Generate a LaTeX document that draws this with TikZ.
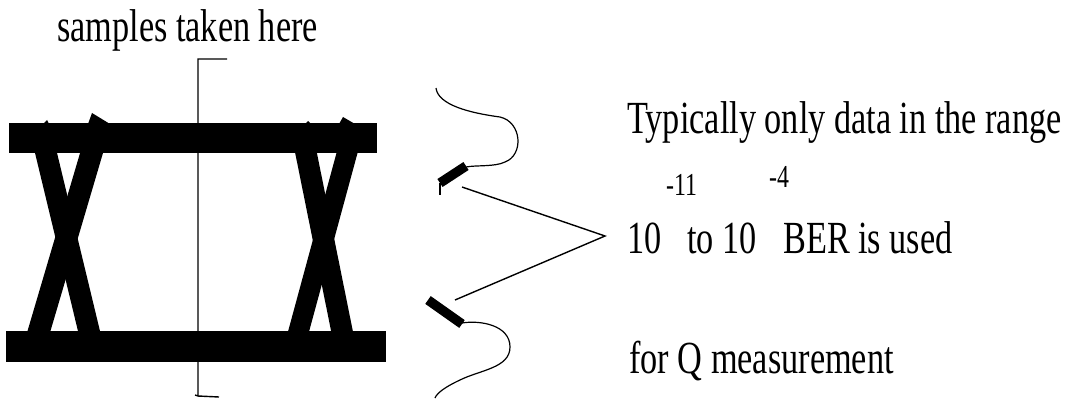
\documentclass[tikz,border=0pt]{standalone}
\usepackage{fontspec}
\setmainfont{Liberation Serif}
\usepackage{graphicx}
\usepackage{tikz}
\newcommand{\narrowtext}[1]{\scalebox{0.745}[1]{#1}}
\tikzset{
eyebar/.style={fill=black},
eyeleg/.style={draw=black, line cap=butt},
tailcurve/.style={draw=black, line width=1.2pt},
tailmark/.style={draw=black, line width=9.5pt},
pointer/.style={draw=black, line width=1.4pt},
lbl/.style={anchor=base west, inner sep=0pt, font=\fontsize{46}{52}\selectfont},
explbl/.style={anchor=base west, inner sep=0pt, font=\fontsize{32}{36}\selectfont}}

\begin{document}
\begin{tikzpicture}[x=1pt, y=-1pt]
                \useasboundingbox (0,0) rectangle (1081,401);

                \draw[eyeleg, line width=21.4pt] (40.0,128) -- (95.0,356);
                \draw[eyeleg, line width=22pt] (98.9,128) -- (31.6,356);
                \draw[eyeleg, line width=21.3pt] (301.0,128) -- (347.0,356);
                \draw[eyeleg, line width=20.3pt] (353.8,128) -- (291.9,356);

                \fill (88,124) -- (92,113) -- (110,124) -- cycle;
                \fill (43,124) -- (47,120) -- (49,124) -- cycle;
                \fill (339,124) -- (343,117) -- (355,124) -- cycle;
                \fill (305,124) -- (308,121) -- (311,124) -- cycle;

                \node[eyebar, inner sep=0pt, minimum width=368pt, minimum height=30pt] (topbar) at (193,138) {};
                \node[eyebar, inner sep=0pt, minimum width=380pt, minimum height=31pt] (botbar) at (196,346.5) {};

                \draw[line width=1.4pt] (227,59) -- (198,59) -- (198,396) -- (195,395);
                \draw[line width=1.4pt] (198,396) -- (219,397);

                \node[lbl] (sampletext) at (57,42) {\narrowtext{samples taken here}};

                \draw[tailcurve] (436,88) .. controls (438,105) and (470,113) .. (500,117)
                    .. controls (522,122) and (524,155) .. (505,162)
                    .. controls (495,167) and (476,165) .. (466,167);
                \draw[tailmark] (466,166) -- (440,183);
                \draw[tailcurve] (440,183) -- (440,195);

                \draw[tailmark] (428,300) -- (462,324);
                \draw[tailcurve] (462,323) .. controls (480,320) and (510,325) .. (510,347)
                    .. controls (510,368) and (480,370) .. (460,380)
                    .. controls (445,387) and (437,393) .. (435,398);

                \coordinate (upmark) at (462,187);
                \coordinate (lowmark) at (455,300);
                \coordinate (tip) at (605,236);
                \draw[pointer] (upmark) -- (tip) -- (lowmark);

                \node[lbl] (range) at (627,133) {\narrowtext{Typically only data in the range}};
                \node[explbl] (lowexp) at (666,195) {\narrowtext{-11}};
                \node[explbl] (highexp) at (769,187) {\narrowtext{-4}};
                \node[lbl] (tenlow) at (627,253) {\narrowtext{10}};
                \node[lbl] (tohigh) at (687,253) {\narrowtext{to 10}};
                \node[lbl] (berused) at (783,253) {\narrowtext{BER is used}};
                \node[lbl] (qmeas) at (629,373) {\narrowtext{for Q measurement}};

            \end{tikzpicture}
\end{document}
